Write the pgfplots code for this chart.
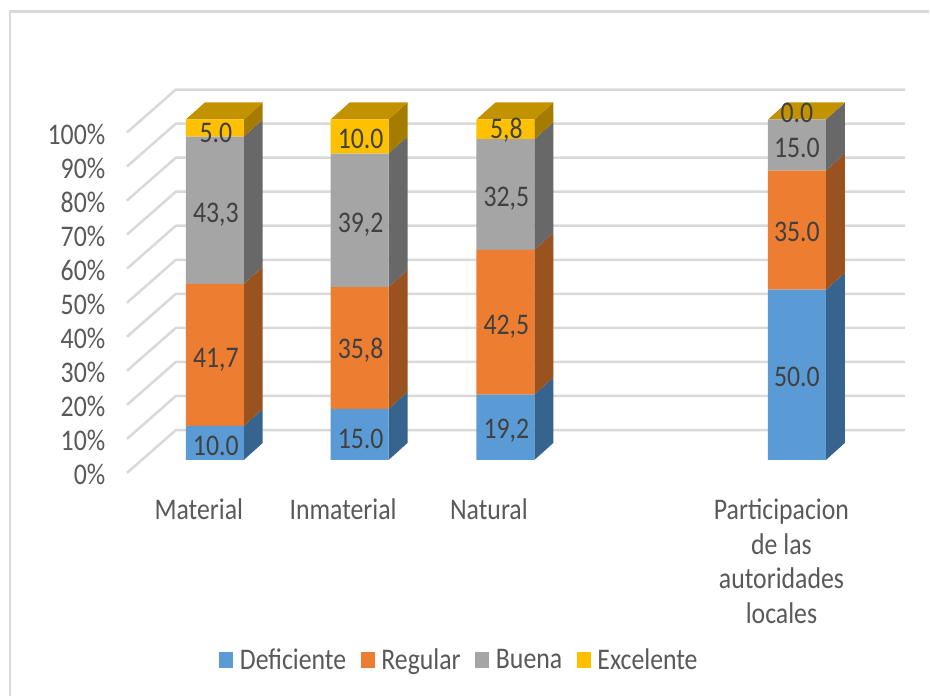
\documentclass[border=0pt]{standalone}
\usepackage{fontspec}
\setmainfont[FakeStretch=0.86]{Carlito}
\usepackage{pgfplots}
\pgfplotsset{compat=1.18}
\usepackage{pgfplotstable}
\definecolor{txt}{HTML}{595959}
\definecolor{lbl}{HTML}{404040}
\definecolor{gridc}{HTML}{D9D9D9}
\definecolor{cdef}{HTML}{5B9BD5}
\definecolor{creg}{HTML}{ED7D31}
\definecolor{cbue}{HTML}{A5A5A5}
\definecolor{cexc}{HTML}{FFC000}
\definecolor{sdef}{HTML}{37648F}
\definecolor{sreg}{HTML}{9A521E}
\definecolor{sbue}{HTML}{686868}
\definecolor{sexc}{HTML}{A67C00}
\definecolor{texc}{HTML}{C29200}

% x is in reference pixels, y in percent (3.41 px per percent)
\pgfplotsset{base/.style={
  scale only axis, width=697.5pt, height=522.75pt,
  xmin=0, xmax=930, ymin=-69.3, ymax=135.1,
  clip=false,
}}

\pgfplotstableread{
x   Def  Reg  Bue  Exc
215 10.0 41.7 43.3 5.0
360 15.0 35.8 39.2 10.0
506 19.2 42.5 32.5 5.8
798 50.0 35.0 15.0 0.0
}\shares

\pgfplotstableread{
x   y     lab
216 4.0   10.0
216 29.4  41,7
216 72.0  43,3
216 96.2  5.0
361 6.1   15.0
361 32.2  35,8
361 69.2  39,2
361 94.4  10.0
507 8.6   19,2
507 39.1  42,5
507 76.6  32,5
507 96.8  5,8
798 24.4  50.0
798 67.0  35.0
798 91.6  15.0
798 101.8 0.0
}\labels

% right-hand face of one segment: right front x, bottom, top, colour
\newcommand{\sideface}[4]{%
  \pgfmathsetmacro\xb{#1+19}%
  \pgfmathsetmacro\ya{#2+5}%
  \pgfmathsetmacro\yb{#3+5}%
  \addplot[draw=none, fill=#4] coordinates {(#1,#2) (\xb,\ya) (\xb,\yb) (#1,#3)} -- cycle;
}
% top face: left front x, right front x
\newcommand{\topface}[2]{%
  \pgfmathsetmacro\xa{#1+19}%
  \pgfmathsetmacro\xb{#2+19}%
  \addplot[draw=none, fill=texc] coordinates {(#1,100) (\xa,105) (\xb,105) (#2,100)} -- cycle;
}

\begin{document}
\begin{tikzpicture}
\begin{axis}[
  base,
  axis line style={draw=none},
  major tick length=0pt,
  tick pos=left,
  ytick={0,10,...,100},
  yticklabels={0\%,10\%,20\%,30\%,40\%,50\%,60\%,70\%,80\%,90\%,100\%},
  yticklabel style={anchor=east, xshift=82.5pt, yshift=-11.2pt, text=txt,
    font=\fontsize{22.5}{26}\selectfont},
  xtick={199,343.5,489.5,782.5},
  xticklabels={Material,Inmaterial,Natural,{Participacion\\de las\\autoridades\\locales}},
  xticklabel style={anchor=north, align=center, yshift=151.5pt, text=txt,
    font=\fontsize{22.5}{26}\selectfont},
]
% chart frame
\addplot[gridc, line width=1.9pt] coordinates {(10,-69.3) (10,131.7) (930,131.7)};
% walls
\pgfplotsinvokeforeach{0,10,...,100}{
  \pgfmathsetmacro\ya{#1-3.81}
  \pgfmathsetmacro\yb{#1+8.8}
  \addplot[gridc, line width=1.9pt] coordinates {(127,\ya) (176,\yb) (906,\yb)};
}
% Material
\sideface{244}{0}{10}{sdef}
\sideface{244}{10}{51.7}{sreg}
\sideface{244}{51.7}{95}{sbue}
\sideface{244}{95}{100}{sexc}
\topface{186}{244}
% Inmaterial
\sideface{389}{0}{15}{sdef}
\sideface{389}{15}{50.8}{sreg}
\sideface{389}{50.8}{90}{sbue}
\sideface{389}{90}{100}{sexc}
\topface{331}{389}
% Natural
\sideface{535}{0}{19.2}{sdef}
\sideface{535}{19.2}{61.7}{sreg}
\sideface{535}{61.7}{94.2}{sbue}
\sideface{535}{94.2}{100}{sexc}
\topface{477}{535}
% Participacion
\sideface{827}{0}{50}{sdef}
\sideface{827}{50}{85}{sreg}
\sideface{827}{85}{100}{sbue}
\topface{769}{827}
\end{axis}

\begin{axis}[
  base,
  hide axis,
  ybar stacked,
  bar width=58,
  legend columns=4,
  legend cell align=left,
  legend style={at={(0.2358,0.0516)}, anchor=west, draw=none, fill=none,
    inner xsep=0pt, text=txt, font=\fontsize{22.5}{26}\selectfont,
    /tikz/every odd column/.style={column sep=3pt},
    /tikz/every even column/.style={column sep=9pt}},
  legend image code/.code={\fill[#1] (0pt,-6pt) rectangle (10.5pt,6pt);},
]
\addplot[fill=cdef, draw=none] table[x=x, y=Def] {\shares};
\addplot[fill=creg, draw=none] table[x=x, y=Reg] {\shares};
\addplot[fill=cbue, draw=none] table[x=x, y=Bue] {\shares};
\addplot[fill=cexc, draw=none] table[x=x, y=Exc] {\shares};
\legend{Deficiente,Regular,Buena,Excelente}
\end{axis}

\begin{axis}[base, hide axis]
\addplot[draw=none, mark=none, point meta=explicit symbolic,
  nodes near coords,
  nodes near coords align=center,
  every node near coord/.style={text=lbl, font=\fontsize{22.5}{26}\selectfont, inner sep=0pt},
] table[x=x, y=y, meta=lab] {\labels};
\end{axis}
\end{tikzpicture}
\end{document}
